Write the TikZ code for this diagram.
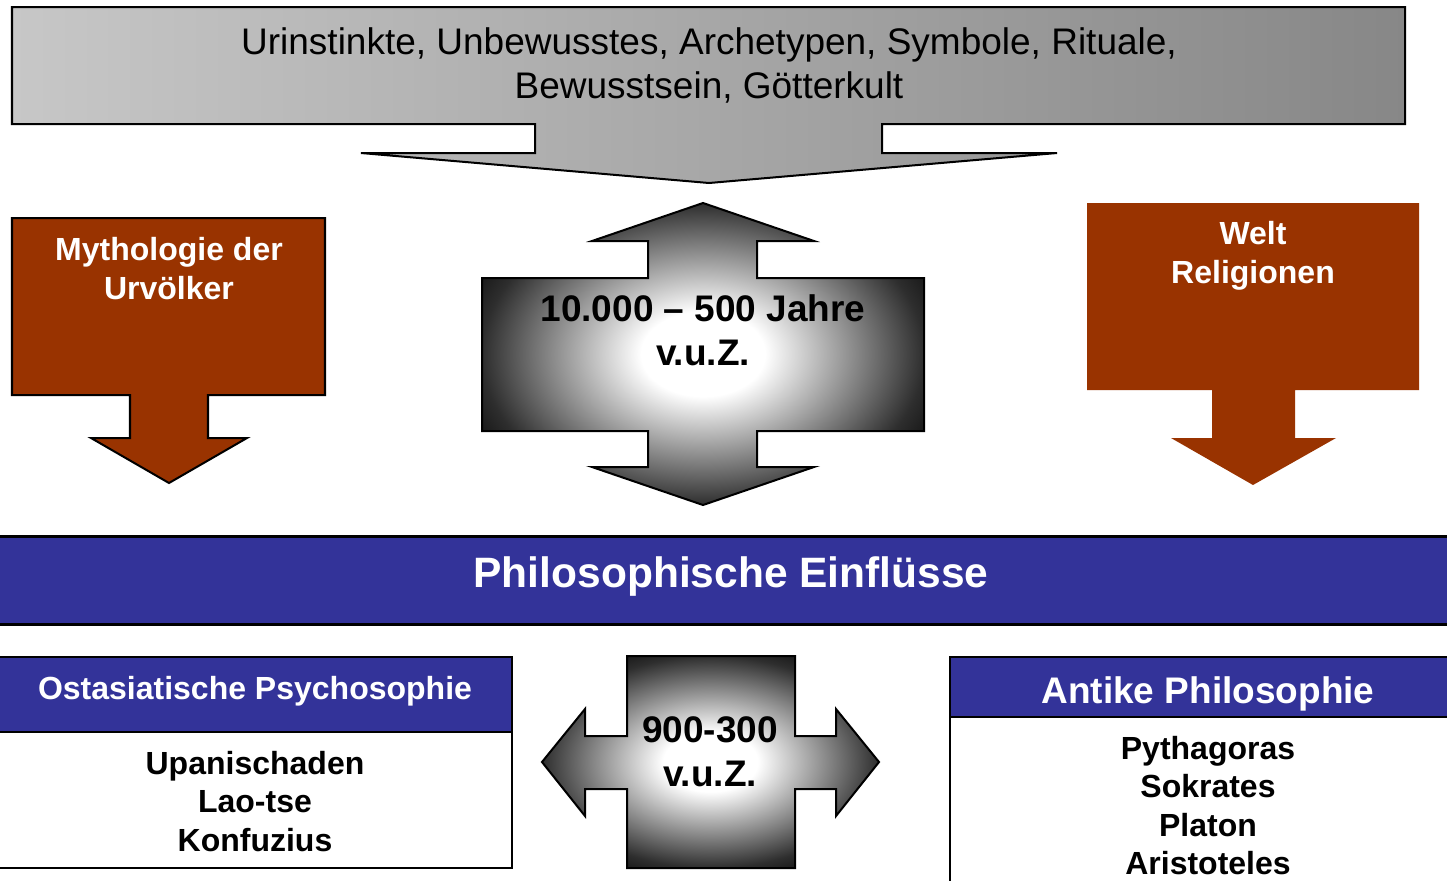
\documentclass[tikz,border=0pt]{standalone}
\usepackage{fontspec}
\setmainfont{Liberation Sans}
\definecolor{brickred}{HTML}{993300}
\definecolor{bandblue}{HTML}{333399}
\pgfdeclareradialshading{glow}{\pgfpoint{0bp}{0bp}}{color(0bp)=(white); color(7bp)=(white); color(25bp)=(black!82); color(32bp)=(black); color(50bp)=(black)}
\tikzset{
  bigtext/.style={font=\fontsize{18.5}{22}\selectfont, align=center},
  bigbold/.style={font=\bfseries\fontsize{18.5}{22}\selectfont, align=center},
  smallbold/.style={font=\bfseries\fontsize{16}{19.3}\selectfont, align=center},
  onbrick/.style={smallbold, text=white},
}
\begin{document}
\begin{tikzpicture}[x=0.5pt,y=-0.5pt,line join=miter]
  \pgfsetlinewidth{1bp}
  \useasboundingbox (0,0) rectangle (1447,880);
%%
  % Shape: roots callout
  \draw[left color=black!22,right color=black!47] (12,7) -- (1405,7) -- (1405,124) -- (882,124) -- (882,153) -- (1057,153) -- (709,183) -- (361,153) -- (535,153) -- (535,124) -- (12,124) -- cycle;
  \node[bigtext] (roots) at (709,65) {Urinstinkte, Unbewusstes, Archetypen, Symbole, Rituale,\\Bewusstsein, Götterkult};
  % Shape: myth arrow
  \draw[fill=brickred] (12,218) -- (325,218) -- (325,395) -- (208,395) -- (208,438) -- (247,438) -- (169,483) -- (91,438) -- (130,438) -- (130,395) -- (12,395) -- cycle;
  \node[onbrick] (myth) at (169,268.5) {Mythologie der\\Urvölker};
  % Shape: religion arrow
  \fill[brickred] (1087,203) -- (1419,203) -- (1419,390) -- (1295,390) -- (1295,438) -- (1336,438) -- (1253,485) -- (1171,438) -- (1212,438) -- (1212,390) -- (1087,390) -- cycle;
  \node[onbrick] (relig) at (1253,255.5) {Welt\\Religionen};
  % Shape: era arrow
  \draw[shade,shading=glow] (703,203) -- (814,241) -- (757,241) -- (757,278) -- (924,278) -- (924,431) -- (757,431) -- (757,467) -- (814,467) -- (703,505) -- (592,467) -- (648,467) -- (648,431) -- (482,431) -- (482,278) -- (648,278) -- (648,241) -- (592,241) -- cycle;
  \node[bigbold] (era) at (703,330) {10.000 – 500 Jahre\\v.u.Z.};
  % Shape: band
  \fill[bandblue] (0,536) rectangle (1447,624);
  \draw[line width=1.5pt] (0,536) -- (1447,536) (0,624) -- (1447,624);
  \node[font=\bfseries\fontsize{21.25}{25}\selectfont,text=white] (infl) at (731,576) {Philosophische Einflüsse};
  % Shape: east box
  \draw[fill=bandblue] (-2,657) rectangle (512,732);
  \draw (-2,732) rectangle (512,868);
  \node[smallbold,text=white] (easthead) at (255,691) {Ostasiatische Psychosophie};
  \node[smallbold] (eastnames) at (255,801.5) {Upanischaden\\Lao-tse\\Konfuzius};
  % Shape: antique box
  \draw[fill=bandblue] (950,657) rectangle (1452,717);
  \draw (950,717) rectangle (1452,890);
  \node[bigbold,text=white] (anthead) at (1208,694) {Antike Philosophie};
  \node[smallbold] (antnames) at (1208,805.5) {Pythagoras\\Sokrates\\Platon\\Aristoteles};
  % Shape: axial arrow
  \draw[shade,shading=glow] (627,656) -- (795,656) -- (795,736) -- (836,736) -- (836,709) -- (879,762) -- (836,816) -- (836,789) -- (795,789) -- (795,868) -- (627,868) -- (627,789) -- (585,789) -- (585,816) -- (542,762) -- (585,709) -- (585,736) -- (627,736) -- cycle;
  \node[bigbold] (axial) at (710,752) {900-300\\v.u.Z.};
%
\end{tikzpicture}
\end{document}
